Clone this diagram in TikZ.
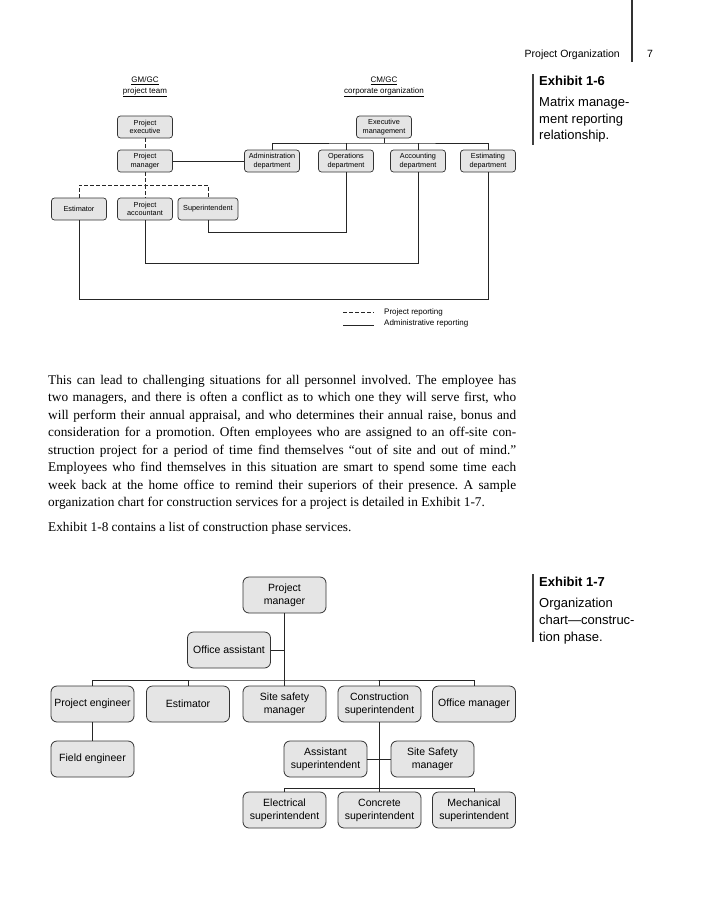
\documentclass[tikz,border=0pt]{standalone}
\usepackage{fontspec}
\setmainfont{Liberation Serif}
\setsansfont{Liberation Sans}
\usetikzlibrary{calc}
\frenchspacing
\begin{document}
\begin{tikzpicture}[x=1pt,y=-1pt,
  ln/.style={draw=black!85, line width=0.8pt},
  dsh/.style={ln, dash pattern=on 3.5pt off 2.5pt},
  sbox/.style={draw=black!80, fill=black!10, rounded corners=3pt, minimum width=55pt, minimum height=22pt, inner sep=1pt, align=center, font=\sffamily\fontsize{7.3}{8.3}\selectfont, line width=0.7pt},
  bbox/.style={draw=black!80, fill=black!10, rounded corners=6pt, minimum width=83pt, minimum height=36pt, inner sep=1pt, align=center, font=\sffamily\fontsize{10.5}{13}\selectfont, line width=0.8pt},
  body/.style={anchor=base west, inner sep=0pt, font=\fontsize{13.3}{15}\selectfont},
  ttl/.style={align=center, inner sep=0pt, font=\sffamily\fontsize{8}{11}\selectfont},
  leg/.style={anchor=west, inner sep=0pt, font=\sffamily\fontsize{8}{10}\selectfont},
  captxt/.style={anchor=base west, inner sep=0pt, font=\sffamily\fontsize{13}{15}\selectfont},
  captxtb/.style={captxt, font=\sffamily\bfseries\fontsize{13}{15}\selectfont},
  hdr/.style={inner sep=0pt, font=\sffamily\fontsize{10.5}{12}\selectfont}
]
\useasboundingbox (0,0) rectangle (701,900);
\fill[white] (0,0) rectangle (701,900);

% header
\draw[line width=1.2pt, black!80] (632,0) -- (632,62);
\node[hdr, anchor=base east] (hd) at (620,57) {Project Organization};
\node[hdr, anchor=base west] (pg) at (647,57) {7};

% Exhibit 1-6 caption
\draw[line width=1.5pt, black!75] (533,74) -- (533,145);
\node[captxtb] (ex6) at (539,85) {Exhibit 1-6};
\node[captxt] (ex6a) at (539,106) {Matrix manage-};
\node[captxt] (ex6b) at (539,123) {ment reporting};
\node[captxt] (ex6c) at (539,139) {relationship.};

% Exhibit 1-6 diagram
\node[ttl] (gm) at (145,87) {\underline{GM/GC}\\\underline{project team}};
\node[ttl] (cm) at (384,87) {\underline{CM/GC}\\\underline{corporate organization}};

\node[sbox] (pe) at (145,127) {Project\\executive};
\node[sbox] (pm) at (145,161) {Project\\manager};
\node[sbox] (em) at (384,127) {Executive\\management};
\node[sbox] (ad) at (272,161) {Administration\\department};
\node[sbox] (od) at (346,161) {Operations\\department};
\node[sbox] (acd) at (418,161) {Accounting\\department};
\node[sbox] (esd) at (488,161) {Estimating\\department};
\node[sbox] (est) at (79,209) {Estimator};
\node[sbox] (pa) at (145,209) {Project\\accountant};
\node[sbox, minimum width=60pt] (sup) at (208,209) {Superintendent};

\coordinate (dj) at (145,185);
\draw[dsh] (pe) -- (pm);
\draw[dsh] (pm) -- (dj);
\draw[dsh] (est.north) |- (dj) -| (sup.north);
\draw[dsh] (dj) -- (pa);
\draw[ln] (pm) -- (ad);
\coordinate (eb) at (384,143);
\draw[ln] (em) -- (eb);
\draw[ln] (ad.north) |- (eb) -| (esd.north);
\draw[ln] (od.north) -- (od.north |- eb);
\draw[ln] (acd.north) -- (acd.north |- eb);
\draw[ln] (sup.south) -- ++(0,12) -| (od.south);
\draw[ln] (pa.south) -- ++(0,43) -| (acd.south);
\draw[ln] (est.south) -- ++(0,79) -| (esd.south);

% legend
\coordinate (l1a) at (343,312); \coordinate (l1b) at (374,312);
\coordinate (l2a) at (343,325); \coordinate (l2b) at (374,325);
\draw[dsh, line width=0.7pt] (l1a) -- (l1b);
\draw[ln, line width=0.7pt] (l2a) -- (l2b);
\node[leg] (lg1) at (384,312) {Project reporting};
\node[leg] (lg2) at (384,323.5) {Administrative reporting};

% body text
\node[body] (t1) at (48,384) {\makebox[468pt][s]{This can lead to challenging situations for all personnel involved. The employee has}};
\node[body] (t2) at (48,401.5) {\makebox[468pt][s]{two managers, and there is often a conflict as to which one they will serve first, who}};
\node[body] (t3) at (48,419) {\makebox[468pt][s]{will perform their annual appraisal, and who determines their annual raise, bonus and}};
\node[body] (t4) at (48,436.5) {\makebox[468pt][s]{consideration for a promotion. Often employees who are assigned to an off-site con-}};
\node[body] (t5) at (48,454) {\makebox[468pt][s]{struction project for a period of time find themselves “out of site and out of mind.”}};
\node[body] (t6) at (48,471.5) {\makebox[468pt][s]{Employees who find themselves in this situation are smart to spend some time each}};
\node[body] (t7) at (48,489) {\makebox[468pt][s]{week back at the home office to remind their superiors of their presence. A sample}};
\node[body] (t8) at (48,506.5) {organization chart for construction services for a project is detailed in Exhibit 1-7.};
\node[body] (t9) at (48,531) {Exhibit 1-8 contains a list of construction phase services.};

% Exhibit 1-7 caption
\draw[line width=1.5pt, black!75] (533,574) -- (533,642);
\node[captxtb] (ex7) at (539,586) {Exhibit 1-7};
\node[captxt] (ex7a) at (539,607) {Organization};
\node[captxt] (ex7b) at (539,624) {chart—construc-};
\node[captxt] (ex7c) at (539,641) {tion phase.};

% Exhibit 1-7 diagram
\node[bbox] (pm2) at (284.5,595) {Project\\manager};
\node[bbox] (oa) at (229,650) {Office assistant};
\node[bbox] (peng) at (92.5,704) {Project engineer};
\node[bbox] (est2) at (188,704) {Estimator};
\node[bbox] (ssm) at (284.5,704) {Site safety\\manager};
\node[bbox] (cs) at (379.5,704) {Construction\\superintendent};
\node[bbox] (om) at (474,704) {Office manager};
\node[bbox] (fe) at (92.5,759) {Field engineer};
\node[bbox] (as) at (325.5,759) {Assistant\\superintendent};
\node[bbox] (ss2) at (432.5,759) {Site Safety\\manager};
\node[bbox] (el) at (284.5,810) {Electrical\\superintendent};
\node[bbox] (co) at (379.5,810) {Concrete\\superintendent};
\node[bbox] (me) at (474,810) {Mechanical\\superintendent};

\coordinate (b1) at (284.5,680);
\draw[ln] (pm2) -- (ssm);
\draw[ln] (oa.east) -- (oa.east -| pm2.south);
\draw[ln] (peng.north) |- (b1) -| (om.north);
\draw[ln] (est2.north) -- (est2.north |- b1);
\draw[ln] (cs.north) -- (cs.north |- b1);
\draw[ln] (peng) -- (fe);
\coordinate (b2) at (379.5,788);
\draw[ln] (cs) -- (co);
\draw[ln] (as.east) -- (ss2.west);
\draw[ln] (el.north) |- (b2) -| (me.north);
\end{tikzpicture}
\end{document}
